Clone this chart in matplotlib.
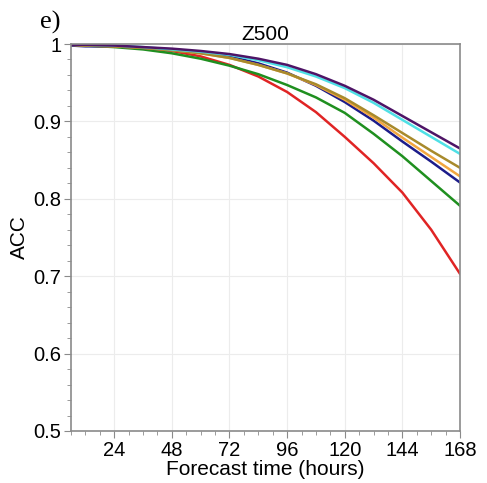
import matplotlib
matplotlib.use("Agg")
import matplotlib.pyplot as plt
from matplotlib.ticker import MultipleLocator, FuncFormatter

# forecast lead times (hours)
horas = [6, 12, 24, 36, 48, 60, 72, 84, 96, 108, 120, 132, 144, 156, 168]

acc_roxo = [0.999, 0.999, 0.998, 0.996, 0.994, 0.991, 0.987, 0.981, 0.973, 0.961, 0.946, 0.928, 0.907, 0.886, 0.865]
acc_ciano = [0.999, 0.999, 0.998, 0.996, 0.993, 0.990, 0.986, 0.979, 0.970, 0.958, 0.943, 0.924, 0.902, 0.880, 0.858]
acc_oliva = [0.999, 0.998, 0.997, 0.995, 0.992, 0.988, 0.982, 0.973, 0.962, 0.948, 0.930, 0.908, 0.885, 0.862, 0.840]
acc_laranja = [0.999, 0.998, 0.997, 0.995, 0.992, 0.988, 0.982, 0.973, 0.962, 0.947, 0.928, 0.905, 0.879, 0.854, 0.829]
acc_azul = [0.998, 0.997, 0.997, 0.995, 0.992, 0.989, 0.984, 0.975, 0.963, 0.946, 0.925, 0.901, 0.874, 0.848, 0.821]
acc_verde = [0.999, 0.998, 0.996, 0.993, 0.988, 0.981, 0.972, 0.961, 0.947, 0.931, 0.911, 0.884, 0.855, 0.823, 0.791]
acc_vermelho = [0.999, 0.998, 0.997, 0.995, 0.991, 0.984, 0.973, 0.958, 0.938, 0.912, 0.880, 0.846, 0.808, 0.760, 0.703]

series = [
    (acc_vermelho, '#e02424'),
    (acc_verde, '#1f8f1f'),
    (acc_azul, '#1c1c8a'),
    (acc_laranja, '#f2a640'),
    (acc_oliva, '#a88a2c'),
    (acc_ciano, '#4fe0e6'),
    (acc_roxo, '#4e1466'),
]

plt.rcParams['font.family'] = ['Liberation Sans', 'DejaVu Sans']

fig = plt.figure(figsize=(4.87, 4.83), dpi=100)
ax = fig.add_axes([0.1458, 0.1077, 0.7988, 0.8012])

for valores, cor in series:
    ax.plot(horas, valores, color=cor, lw=1.8)

ax.set_xlim(6, 168)
ax.set_ylim(0.5, 1.0)
ax.set_xticks([24, 48, 72, 96, 120, 144, 168])
ax.xaxis.set_minor_locator(MultipleLocator(6))
ax.set_yticks([0.5, 0.6, 0.7, 0.8, 0.9, 1.0])
ax.yaxis.set_minor_locator(MultipleLocator(0.02))
ax.yaxis.set_major_formatter(FuncFormatter(lambda v, p: '1' if abs(v - 1) < 1e-9 else f'{v:.1f}'))

ax.grid(True, which='major', color='#ececec', lw=0.8)
for s in ax.spines.values():
    s.set_color('#8a8a8a')
    s.set_linewidth(1.2)
ax.tick_params(which='major', length=5, color='#8a8a8a', labelsize=14.5, pad=2)
ax.tick_params(which='minor', length=3, color='#8a8a8a')

ax.set_xlabel('Forecast time (hours)', fontsize=15, labelpad=0)
ax.set_ylabel('ACC', fontsize=15, labelpad=3)
ax.set_title('Z500', fontsize=15, pad=3)
fig.text(0.082, 0.94, 'e)', fontsize=19, family='Liberation Serif')

fig.savefig('out.png', dpi=100)
